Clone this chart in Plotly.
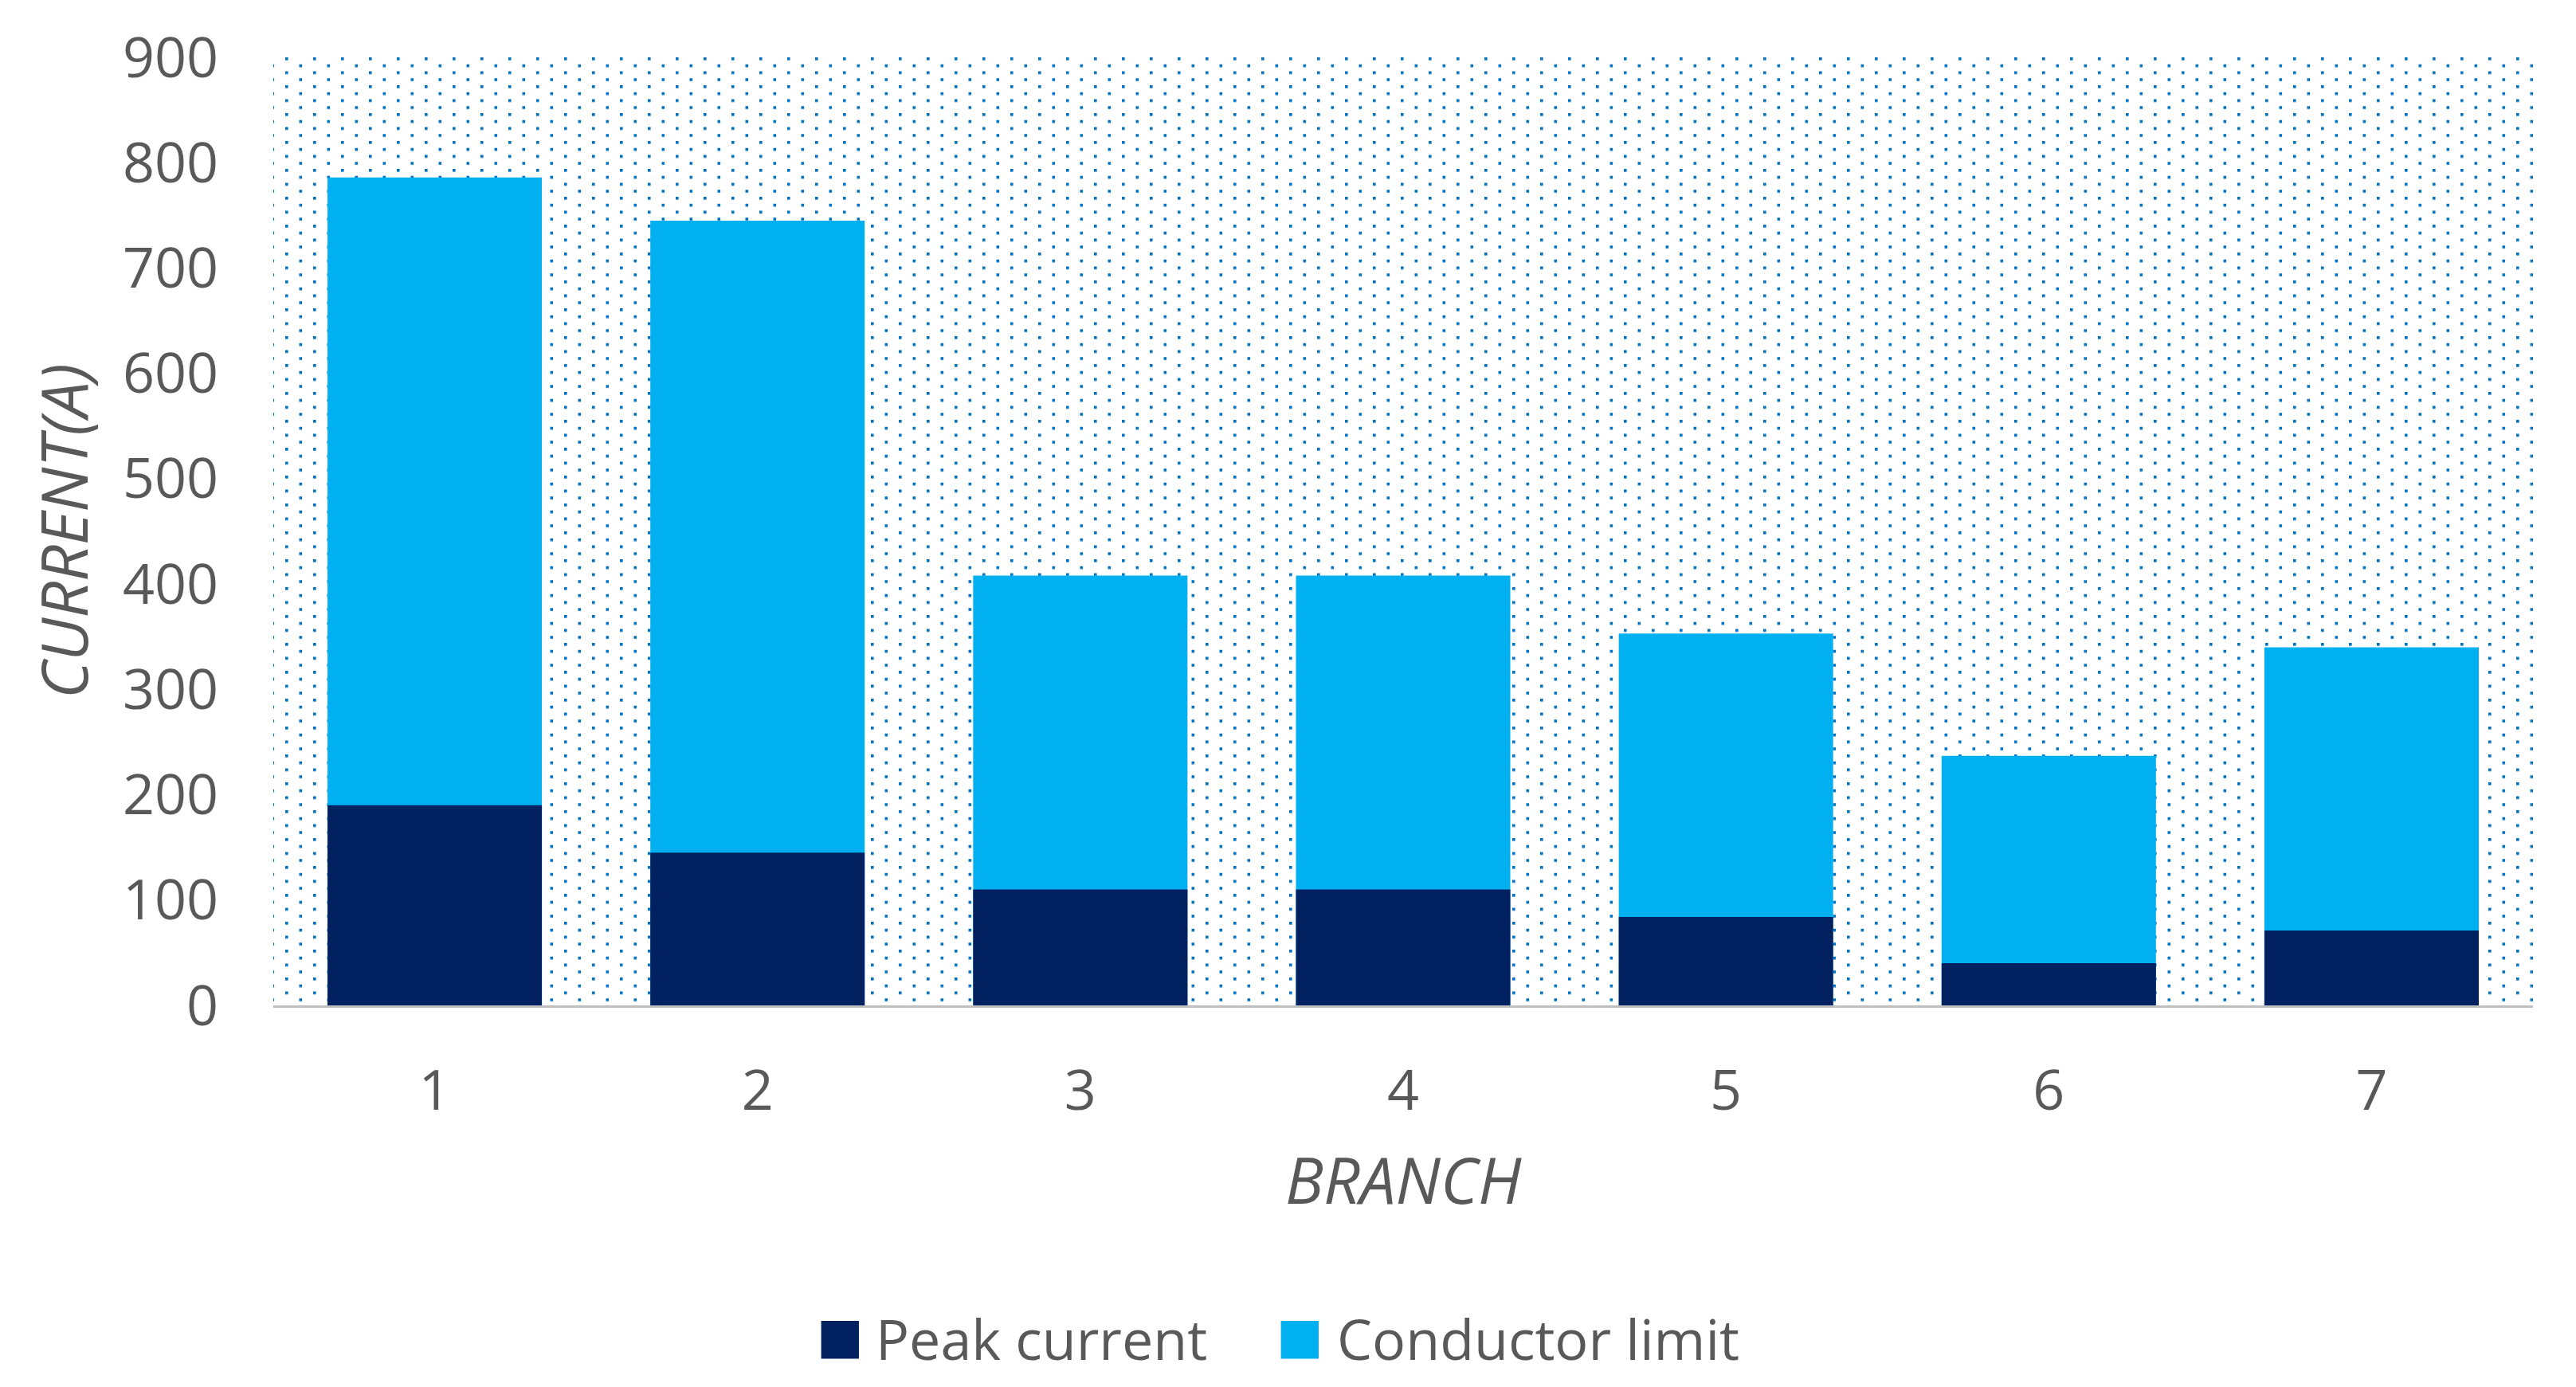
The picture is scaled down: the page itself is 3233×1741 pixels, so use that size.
import base64
import plotly.graph_objects as go

# ---- data ----
branches = ["1", "2", "3", "4", "5", "6", "7"]
peak_current = [190, 145, 110, 110, 84, 40, 71]
conductor_limit = [786, 745, 408, 408, 353, 237, 340]
y_ticks = [0, 100, 200, 300, 400, 500, 600, 700, 800, 900]

W, H = 3233, 1741
ML, MR, MT, MB = 343, 54, 72, 479
PW, PH = W - ML - MR, H - MT - MB

NAVY = "#002060"
CYAN = "#00B0F0"
TXT = "#595959"
FONT = "Open Sans, Noto Sans, DejaVu Sans, sans-serif"

# dotted plot-area texture (background decoration)
svg = (
    f'<svg xmlns="http://www.w3.org/2000/svg" width="{PW}" height="{PH}" '
    f'viewBox="0 0 {PW} {PH}">'
    '<defs><pattern id="d" patternUnits="userSpaceOnUse" x="15" y="0" '
    'width="35" height="17.5">'
    '<rect x="0" y="0" width="3.6" height="3.6" fill="#0070C0"/>'
    '<rect x="17.5" y="8.75" width="3.6" height="3.6" fill="#0070C0"/>'
    '</pattern></defs>'
    f'<rect x="0" y="0" width="{PW}" height="{PH}" fill="url(#d)"/></svg>'
)
svg_uri = "data:image/svg+xml;base64," + base64.b64encode(svg.encode()).decode()

fig = go.Figure()
fig.add_trace(go.Bar(x=branches, y=conductor_limit, name="Conductor limit",
                     marker=dict(color=CYAN, line=dict(width=0))))
fig.add_trace(go.Bar(x=branches, y=peak_current, name="Peak current",
                     marker=dict(color=NAVY, line=dict(width=0))))

fig.update_layout(
    width=W, height=H,
    margin=dict(l=ML, r=MR, t=MT, b=MB),
    paper_bgcolor="white",
    plot_bgcolor="rgba(0,0,0,0)",
    barmode="overlay",
    bargap=0.336,
    showlegend=False,
    font=dict(family=FONT, color=TXT, size=70),
    images=[dict(source=svg_uri, xref="paper", yref="paper", x=0, y=1,
                 sizex=1, sizey=1, xanchor="left", yanchor="top",
                 sizing="stretch", layer="below")],
)
fig.update_xaxes(
    type="category", range=[-0.5, 6.5],
    showline=True, linecolor="#BFBFBF", linewidth=3,
    showgrid=False, zeroline=False, ticks="",
    tickfont=dict(size=70, color=TXT, family=FONT),
    ticklabelstandoff=44,
)
fig.update_yaxes(
    range=[0, 900], tickvals=y_ticks,
    showline=False, showgrid=False, zeroline=False, ticks="",
    tickfont=dict(size=70, color=TXT, family=FONT),
    ticklabelstandoff=68,
)

def py(pix):
    return (MT + PH - pix) / PH

def px(pix):
    return (pix - ML) / PW

# axis titles
fig.add_annotation(text="<i>BRANCH</i>", xref="paper", yref="paper",
                   x=0.5, y=py(1479), showarrow=False,
                   xanchor="center", yanchor="middle",
                   font=dict(size=80, color=TXT, family=FONT))
fig.add_annotation(text="<i>CURRENT(A)</i>", xref="paper", yref="paper",
                   x=px(78), y=0.5, showarrow=False, textangle=-90,
                   xanchor="center", yanchor="middle",
                   font=dict(size=80, color=TXT, family=FONT))

# legend
legend_items = [("Peak current", NAVY, 1023, 1097),
                ("Conductor limit", CYAN, 1600, 1676)]
for label, col, sq_x, tx_x in legend_items:
    fig.add_annotation(text="■", xref="paper", yref="paper", x=px(sq_x),
                       y=py(1676), showarrow=False, xanchor="left",
                       yanchor="middle",
                       font=dict(size=62, color=col, family="DejaVu Sans"))
    fig.add_annotation(text=label, xref="paper", yref="paper", x=px(tx_x),
                       y=py(1680), showarrow=False, xanchor="left",
                       yanchor="middle",
                       font=dict(size=70, color=TXT, family=FONT))

fig.write_html("out.html",
               config={"displayModeBar": False},
               post_script="document.body.style.margin='0';"
                           "document.body.style.overflow='hidden';")
